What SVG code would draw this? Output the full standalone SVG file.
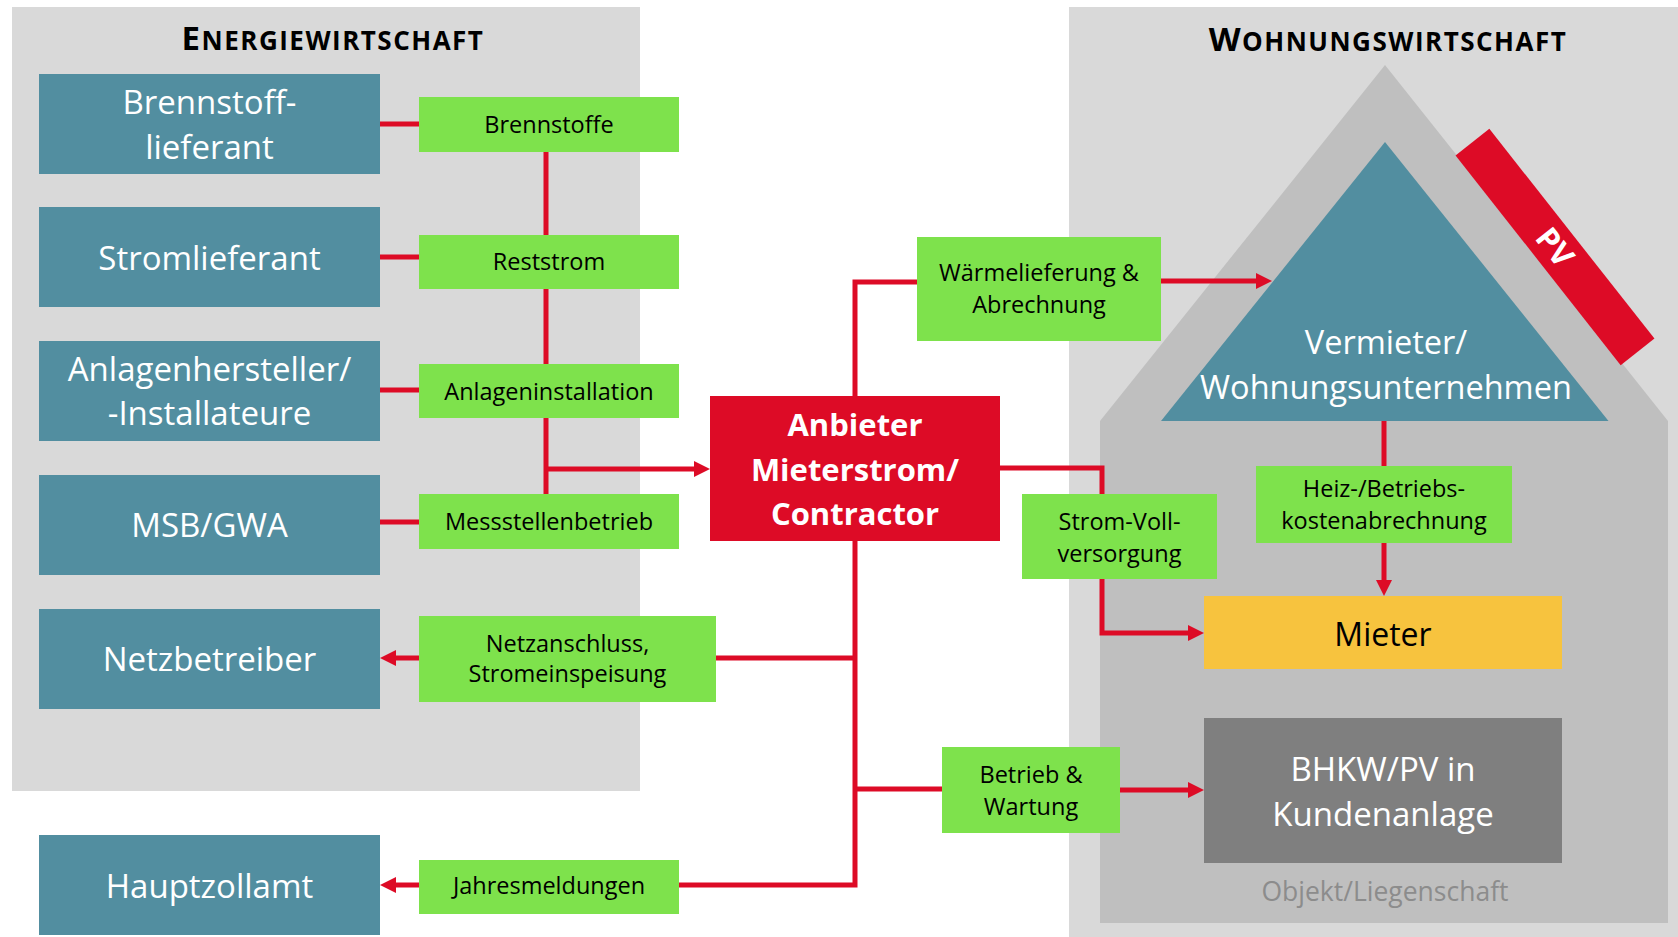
<svg xmlns="http://www.w3.org/2000/svg" width="1678" height="937" viewBox="0 0 1678 937">
<style>
text{font-family:"Open Sans","Noto Sans","DejaVu Sans",sans-serif;text-anchor:middle}
.panel{fill:#D9D9D9}
.blue{fill:#528EA0}
.green{fill:#7EE24C}
.red{fill:#DD0B26}
.bt{font-size:33px;fill:#FFFFFF}
.gt{font-size:23.5px;fill:#000000}
.rt{font-size:31px;font-weight:bold;fill:#FFFFFF}
.title{font-weight:bold;fill:#000000;letter-spacing:1.5px}
.conn{fill:none;stroke:#DD0B26;stroke-width:5;stroke-linejoin:miter}
</style>
<defs>
<marker id="ah" markerUnits="userSpaceOnUse" markerWidth="16" markerHeight="16" refX="6" refY="8" orient="auto">
<path d="M0,0 L16,8 L0,16 z" fill="#DD0B26"/>
</marker>
</defs>

<g id="bg">
<rect class="panel" x="12" y="7" width="628" height="784"/>
<rect class="panel" x="1069" y="7" width="609" height="930"/>
<polygon points="1385,65 1668,421 1668,923 1100,923 1100,421" fill="#BFBFBF"/>
<text x="1385" y="901" style="font-size:26.5px;fill:#8C8C8C">Objekt/Liegenschaft</text>
<text class="title" x="333" y="50"><tspan font-size="33">E</tspan><tspan font-size="26">NERGIEWIRTSCHAFT</tspan></text>
<text class="title" x="1388" y="50.5"><tspan font-size="33">W</tspan><tspan font-size="26">OHNUNGSWIRTSCHAFT</tspan></text>
</g>

<g id="pv" transform="translate(1555,247) rotate(51.8)">
<rect class="red" x="-133.5" y="-21.5" width="267" height="43"/>
<text x="0" y="11" style="font-size:31px;font-weight:bold;fill:#FFFFFF">PV</text>
</g>

<g id="connectors">
<path class="conn" d="M380,124 H419"/>
<path class="conn" d="M380,257 H419"/>
<path class="conn" d="M380,390 H419"/>
<path class="conn" d="M380,522 H419"/>
<path class="conn" d="M546,152 V494"/>
<path class="conn" d="M546,469 H700" marker-end="url(#ah)"/>
<path class="conn" d="M855,396 V282 H917"/>
<path class="conn" d="M1161,281 H1262" marker-end="url(#ah)"/>
<path class="conn" d="M1000,468 H1102 V633 H1194" marker-end="url(#ah)"/>
<path class="conn" d="M1384,421 V466"/>
<path class="conn" d="M1384,543 V586" marker-end="url(#ah)"/>
<path class="conn" d="M855,541 V885 H679"/>
<path class="conn" d="M855,658 H716"/>
<path class="conn" d="M855,789 H942"/>
<path class="conn" d="M1120,790 H1194" marker-end="url(#ah)"/>
<path class="conn" d="M419,658 H390" marker-end="url(#ah)"/>
<path class="conn" d="M419,885 H390" marker-end="url(#ah)"/>
</g>

<g id="brennstofflieferant">
<rect class="blue" x="39" y="74" width="341" height="100"/>
<text class="bt" x="209.5" y="114">Brennstoff-</text>
<text class="bt" x="209.5" y="159">lieferant</text>
</g>
<g id="stromlieferant">
<rect class="blue" x="39" y="207" width="341" height="100"/>
<text class="bt" x="209.5" y="270">Stromlieferant</text>
</g>
<g id="anlagenhersteller">
<rect class="blue" x="39" y="341" width="341" height="100"/>
<text class="bt" x="209.5" y="381">Anlagenhersteller/</text>
<text class="bt" x="209.5" y="425">-Installateure</text>
</g>
<g id="msb">
<rect class="blue" x="39" y="475" width="341" height="100"/>
<text class="bt" x="209.5" y="537">MSB/GWA</text>
</g>
<g id="netzbetreiber">
<rect class="blue" x="39" y="609" width="341" height="100"/>
<text class="bt" x="209.5" y="671">Netzbetreiber</text>
</g>
<g id="hauptzollamt">
<rect class="blue" x="39" y="835" width="341" height="100"/>
<text class="bt" x="209.5" y="898">Hauptzollamt</text>
</g>

<g id="brennstoffe">
<rect class="green" x="419" y="97" width="260" height="55"/>
<text class="gt" x="549" y="132.5">Brennstoffe</text>
</g>
<g id="reststrom">
<rect class="green" x="419" y="235" width="260" height="54"/>
<text class="gt" x="549" y="270">Reststrom</text>
</g>
<g id="anlageninstallation">
<rect class="green" x="419" y="364" width="260" height="54"/>
<text class="gt" x="549" y="400">Anlageninstallation</text>
</g>
<g id="messstellenbetrieb">
<rect class="green" x="419" y="494" width="260" height="55"/>
<text class="gt" x="549" y="529.5">Messstellenbetrieb</text>
</g>
<g id="netzanschluss">
<rect class="green" x="419" y="616" width="297" height="86"/>
<text class="gt" x="567.5" y="651.5">Netzanschluss,</text>
<text class="gt" x="567.5" y="681.5">Stromeinspeisung</text>
</g>
<g id="jahresmeldungen">
<rect class="green" x="419" y="860" width="260" height="54"/>
<text class="gt" x="549" y="894">Jahresmeldungen</text>
</g>

<g id="anbieter">
<rect class="red" x="710" y="396" width="290" height="145"/>
<text class="rt" x="855" y="436">Anbieter</text>
<text class="rt" x="855" y="481">Mieterstrom/</text>
<text class="rt" x="855" y="525">Contractor</text>
</g>

<g id="waermelieferung">
<rect class="green" x="917" y="237" width="244" height="104"/>
<text class="gt" x="1039" y="281">Wärmelieferung &amp;</text>
<text class="gt" x="1039" y="312.5">Abrechnung</text>
</g>

<g id="vermieter">
<polygon points="1385,142 1608.5,421 1161,421" fill="#528EA0"/>
<text x="1386" y="354" style="font-size:32.5px;fill:#FFFFFF">Vermieter/</text>
<text x="1386" y="399" style="font-size:32.5px;fill:#FFFFFF">Wohnungsunternehmen</text>
</g>

<g id="stromvoll">
<rect class="green" x="1022" y="494" width="195" height="85"/>
<text class="gt" x="1119.5" y="530">Strom-Voll-</text>
<text class="gt" x="1119.5" y="561.5">versorgung</text>
</g>

<g id="heizkosten">
<rect class="green" x="1256" y="466" width="256" height="77"/>
<text class="gt" x="1384" y="496.5">Heiz-/Betriebs-</text>
<text class="gt" x="1384" y="529">kostenabrechnung</text>
</g>

<g id="mieter">
<rect x="1204" y="596" width="358" height="73" fill="#F7C33E"/>
<text x="1383" y="646" style="font-size:32px;fill:#000000">Mieter</text>
</g>

<g id="bhkw">
<rect x="1204" y="718" width="358" height="145" fill="#7F7F7F"/>
<text class="bt" x="1383" y="781">BHKW/PV in</text>
<text class="bt" x="1383" y="826">Kundenanlage</text>
</g>

<g id="betrieb">
<rect class="green" x="942" y="747" width="178" height="86"/>
<text class="gt" x="1031" y="782.5">Betrieb &amp;</text>
<text class="gt" x="1031" y="815">Wartung</text>
</g>
</svg>
